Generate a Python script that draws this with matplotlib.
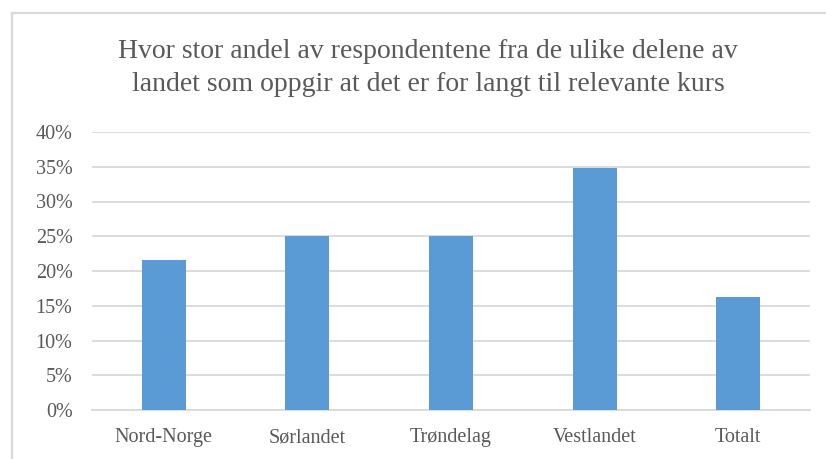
import numpy as np
import matplotlib.pyplot as plt
from matplotlib.patches import Rectangle
from matplotlib.ticker import FuncFormatter

# -------------------------------
# Data
# -------------------------------
regions = ["Nord-Norge", "Sørlandet", "Trøndelag", "Vestlandet", "Totalt"]
shares = [0.216, 0.25, 0.25, 0.348, 0.163]
y_ticks = [0.0, 0.05, 0.10, 0.15, 0.20, 0.25, 0.30, 0.35, 0.40]
title = ("Hvor stor andel av respondentene fra de ulike delene av\n"
         "landet som oppgir at det er for langt til relevante kurs")

text_color = "#595959"
bar_color = "#5B9BD5"
grid_color = "#D9D9D9"

plt.rcParams["font.family"] = ["Liberation Serif", "DejaVu Serif"]

fig = plt.figure(figsize=(8.26, 4.59), dpi=100)
ax = fig.add_axes([92 / 826, 1 - 410 / 459, 718 / 826, 278 / 459])

# Chart frame (runs off the right and bottom edges like the screenshot)
fig.patches.append(Rectangle((12 / 826, -0.1), 1.0, 1 - 13 / 459 + 0.1,
                             transform=fig.transFigure, fill=False,
                             edgecolor=grid_color, linewidth=1.6, zorder=0))

x = np.arange(len(regions))
ax.bar(x, shares, width=0.306, color=bar_color, zorder=3)

ax.set_xlim(-0.5, len(regions) - 0.5)
ax.set_ylim(0, 0.40)
ax.set_yticks(y_ticks)
ax.yaxis.set_major_formatter(FuncFormatter(lambda v, p: f"{v * 100:.0f}%"))
ax.set_xticks(x)
ax.set_xticklabels(regions)

ax.grid(axis="y", color=grid_color, linewidth=1.3, zorder=0)
for side in ["top", "right", "left"]:
    ax.spines[side].set_visible(False)
ax.spines["bottom"].set_color(grid_color)
ax.spines["bottom"].set_linewidth(1.3)
ax.tick_params(axis="both", length=0, labelsize=14.5, colors=text_color)
ax.tick_params(axis="x", pad=13)
ax.tick_params(axis="y", pad=14)

fig.text(428 / 826, 1 - 68 / 459, title, ha="center", va="center",
         fontsize=20, color=text_color, linespacing=1.45)

fig.savefig("out.png", dpi=100)
